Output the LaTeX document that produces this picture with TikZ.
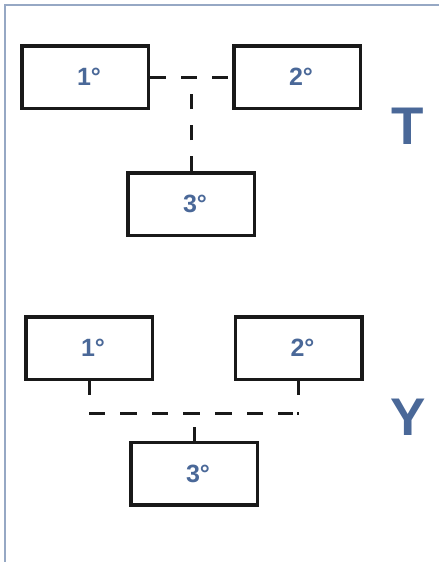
\documentclass[tikz,border=0pt]{standalone}
\usepackage{fontspec}
\setmainfont{Liberation Sans}
\definecolor{txtblue}{RGB}{74,104,152}
\definecolor{frameblue}{RGB}{150,168,196}
\begin{document}
\begin{tikzpicture}[x=1pt,y=-1pt,
  box/.style={draw=black!90,line width=3.5pt,minimum width=126.5pt,minimum height=62.5pt,inner sep=0pt,
    font=\bfseries\fontsize{25}{25}\selectfont,text=txtblue,
    execute at begin node={\hspace*{8pt}}},
  conn/.style={draw=black!90,line width=3pt},
  dconn/.style={conn,dash pattern=on 15.5pt off 15.5pt},
  ydash/.style={conn,dash pattern=on 16pt off 15pt on 17pt off 15pt on 16pt off 15pt on 17pt off 15pt
    on 17pt off 15pt on 16pt off 15pt on 15pt off 4pt on 2pt off 40pt},
  bigletter/.style={font=\bfseries\fontsize{53}{53}\selectfont,text=txtblue,inner sep=0pt}]
\useasboundingbox (0,0) rectangle (439,562);
% frame
\draw[frameblue,line width=2pt] (5,562) -- (5,5) -- (439,5);
% T arrangement
\node[box] (t1) at (85,77) {1°};
\node[box] (t2) at (297,77) {2°};
\node[box] (t3) at (191,204) {3°};
\coordinate (tj) at (191,77);
\draw[dconn] (t1.east) -- (t2.west);
\draw[dconn] (t3.north) -- (tj);
\node[bigletter] (tl) at (408,126) {T};
% Y arrangement
\node[box] (y1) at (89,348) {1°};
\node[box] (y2) at (298.5,348) {2°};
\node[box] (y3) at (194,473.5) {3°};
\coordinate (ya) at (89,395);
\coordinate (yb) at (298,395);
\coordinate (yl) at (89,413);
\coordinate (yr) at (299,413);
\coordinate (yc) at (194,427);
\draw[conn] (y1.south -| ya) -- (ya);
\draw[conn] (y2.south -| yb) -- (yb);
\draw[ydash] (yl) -- (yr);
\draw[conn] (y3.north) -- (yc);
\node[bigletter] (yletter) at (408,417.5) {Y};
\end{tikzpicture}
\end{document}
